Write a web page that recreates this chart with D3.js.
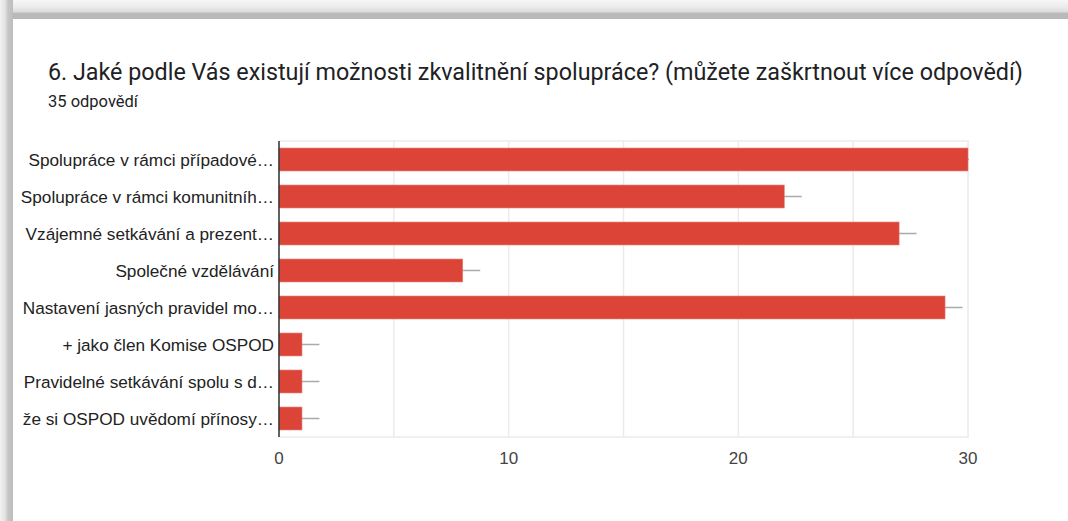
<!DOCTYPE html>
<html>
<head>
<meta charset="utf-8">
<script src="https://cdn.jsdelivr.net/npm/d3@7"></script>
<style>
  html, body { margin: 0; padding: 0; background: #fff; }
  svg { display: block; }
</style>
</head>
<body>
<svg id="chart"></svg>
<script>
// answers (already truncated like in the form summary)
const categories = [
  "Spolupráce v rámci případové…",
  "Spolupráce v rámci komunitníh…",
  "Vzájemné setkávání a prezent…",
  "Společné vzdělávání",
  "Nastavení jasných pravidel mo…",
  "+ jako člen Komise OSPOD",
  "Pravidelné setkávání spolu s d…",
  "že si OSPOD uvědomí přínosy…"
];
const counts = [30, 22, 27, 8, 29, 1, 1, 1];
const errors = [0.76, 0.76, 0.76, 0.76, 0.76, 0.76, 0.76, 0.76];
const tickValues = [0, 10, 20, 30];
const gridValues = [0, 5, 10, 15, 20, 25, 30];

const title = "6. Jaké podle Vás existují možnosti zkvalitnění spolupráce? (můžete zaškrtnout více odpovědí)";
const subtitle = "35 odpovědí";

const W = 1068, H = 521;
const svg = d3.select("#chart").attr("width", W).attr("height", H);

// card shadow bands
const defs = svg.append("defs");
const gTop = defs.append("linearGradient").attr("id", "gTop")
  .attr("x1", 0).attr("y1", 0).attr("x2", 0).attr("y2", 1);
gTop.append("stop").attr("offset", "0%").attr("stop-color", "#f6f6f6");
gTop.append("stop").attr("offset", "35%").attr("stop-color", "#ececec");
gTop.append("stop").attr("offset", "62%").attr("stop-color", "#dcdcdc");
gTop.append("stop").attr("offset", "70%").attr("stop-color", "#bababa");
gTop.append("stop").attr("offset", "100%").attr("stop-color", "#b8b8b8");
const gLeft = defs.append("linearGradient").attr("id", "gLeft")
  .attr("x1", 0).attr("y1", 0).attr("x2", 1).attr("y2", 0);
gLeft.append("stop").attr("offset", "0%").attr("stop-color", "#f2f2f2");
gLeft.append("stop").attr("offset", "40%").attr("stop-color", "#e2e2e2");
gLeft.append("stop").attr("offset", "62%").attr("stop-color", "#c6c6c6");
gLeft.append("stop").attr("offset", "100%").attr("stop-color", "#bdbdbd");

svg.append("rect").attr("x", 0).attr("y", 0).attr("width", W).attr("height", 19).attr("fill", "url(#gTop)");
svg.append("rect").attr("x", 0).attr("y", 0).attr("width", 13).attr("height", H).attr("fill", "url(#gLeft)");

// titles
svg.append("text")
  .attr("x", 48).attr("y", 80)
  .attr("font-family", "Roboto, 'Noto Sans', sans-serif")
  .attr("font-size", 23.3)
  .attr("fill", "#202124")
  .text(title);
svg.append("text")
  .attr("x", 48).attr("y", 107)
  .attr("font-family", "Roboto, 'Noto Sans', sans-serif")
  .attr("font-size", 16.5)
  .attr("fill", "#202124")
  .text(subtitle);

// plot area
const plotLeft = 279, plotRight = 968, plotTop = 141, plotBottom = 437;
const x = d3.scaleLinear().domain([0, 30]).range([plotLeft, plotRight]);
const y = d3.scaleBand().domain(categories).range([plotTop, plotBottom]).paddingInner(0.38).paddingOuter(0.19);

const font = "'Liberation Sans', Arial, sans-serif";

// grid
svg.append("g").selectAll("line").data(gridValues).join("line")
  .attr("x1", d => x(d)).attr("x2", d => x(d))
  .attr("y1", plotTop).attr("y2", plotBottom)
  .attr("stroke", "#ebebeb").attr("stroke-width", 1.5);
svg.append("line").attr("x1", plotLeft).attr("x2", plotRight + 1)
  .attr("y1", plotTop).attr("y2", plotTop).attr("stroke", "#ebebeb").attr("stroke-width", 1.5);
svg.append("line").attr("x1", plotLeft).attr("x2", plotRight + 1)
  .attr("y1", plotBottom).attr("y2", plotBottom).attr("stroke", "#ebebeb").attr("stroke-width", 1.5);

const rows = categories.map((c, i) => ({cat: c, v: counts[i], e: errors[i]}));

// error bars
svg.append("g").selectAll("line").data(rows).join("line")
  .attr("x1", d => x(Math.max(0, d.v - d.e)))
  .attr("x2", d => Math.min(x(d.v + d.e), plotRight + 1))
  .attr("y1", d => y(d.cat) + y.bandwidth() / 2)
  .attr("y2", d => y(d.cat) + y.bandwidth() / 2)
  .attr("stroke", "#aaaaaa").attr("stroke-width", 1.5);

// bars
svg.append("g").selectAll("rect").data(rows).join("rect")
  .attr("x", x(0))
  .attr("y", d => y(d.cat))
  .attr("width", d => x(d.v) - x(0))
  .attr("height", y.bandwidth())
  .attr("fill", "#db4437")
  .attr("stroke", "#e77a70").attr("stroke-width", 0.6);

// baseline
svg.append("line").attr("x1", plotLeft).attr("x2", plotLeft)
  .attr("y1", plotTop).attr("y2", plotBottom)
  .attr("stroke", "#333").attr("stroke-width", 1.5);

// category labels
svg.append("g").selectAll("text").data(rows).join("text")
  .attr("x", plotLeft - 5)
  .attr("y", d => y(d.cat) + y.bandwidth() / 2)
  .attr("dy", "0.36em")
  .attr("text-anchor", "end")
  .attr("font-family", font).attr("font-size", 17.2)
  .attr("fill", "#222")
  .text(d => d.cat);

// x tick labels
svg.append("g").selectAll("text").data(tickValues).join("text")
  .attr("x", d => x(d))
  .attr("y", 464)
  .attr("text-anchor", "middle")
  .attr("font-family", font).attr("font-size", 17)
  .attr("fill", "#444")
  .text(d => d);
</script>
</body>
</html>
